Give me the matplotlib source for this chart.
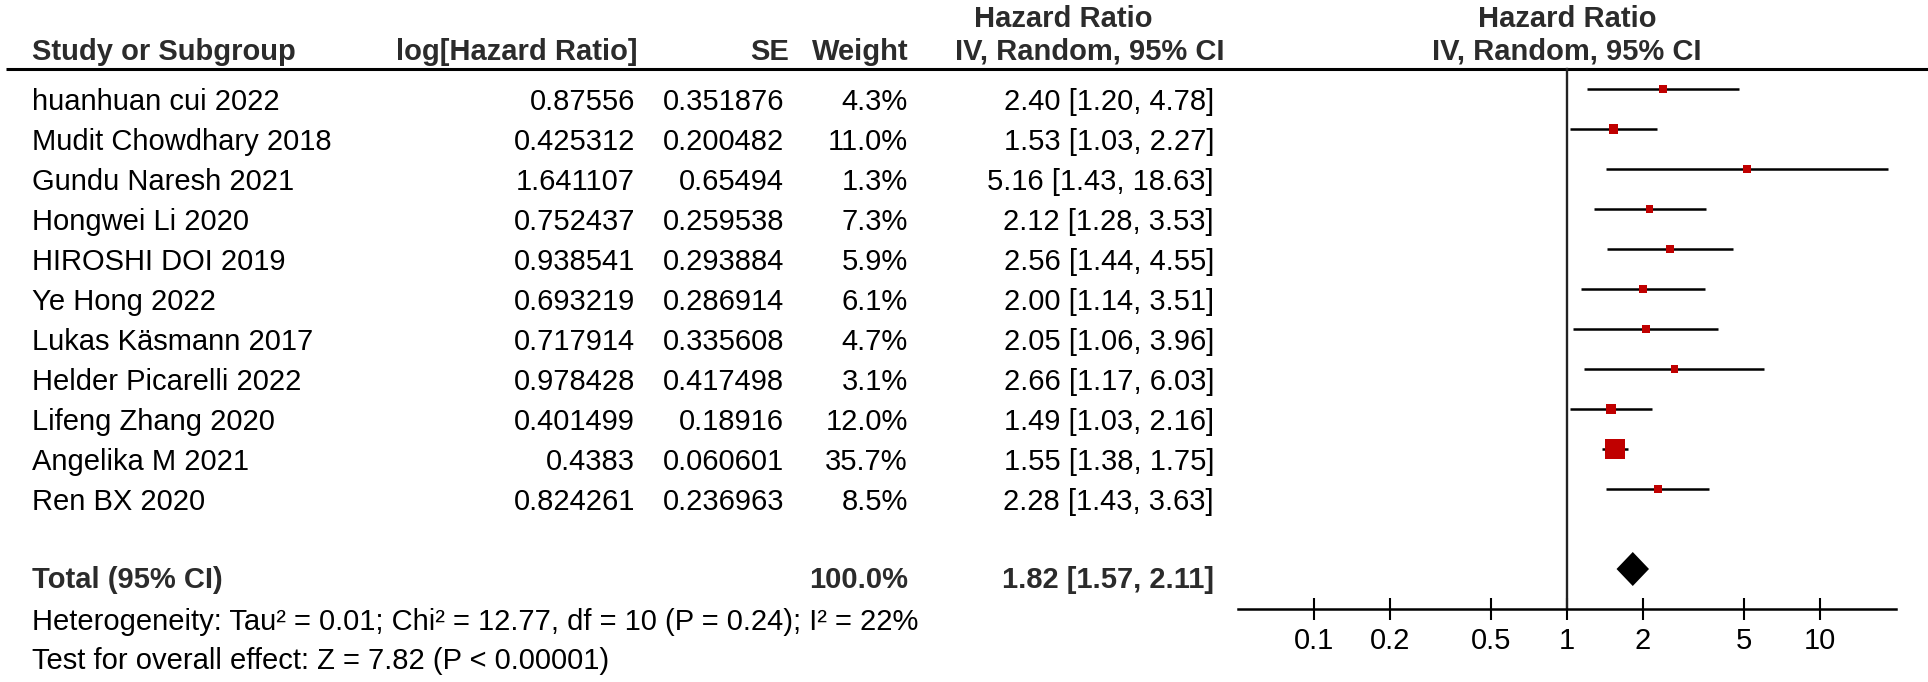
import numpy as np
import matplotlib
matplotlib.use('Agg')
import matplotlib.pyplot as plt

studies = ['huanhuan cui 2022', 'Mudit Chowdhary 2018', 'Gundu Naresh 2021', 'Hongwei Li 2020',
           'HIROSHI DOI 2019', 'Ye Hong 2022', 'Lukas Käsmann 2017', 'Helder Picarelli 2022',
           'Lifeng Zhang 2020', 'Angelika M 2021', 'Ren BX 2020']
log_hr = ['0.87556', '0.425312', '1.641107', '0.752437', '0.938541', '0.693219',
          '0.717914', '0.978428', '0.401499', '0.4383', '0.824261']
se = ['0.351876', '0.200482', '0.65494', '0.259538', '0.293884', '0.286914',
      '0.335608', '0.417498', '0.18916', '0.060601', '0.236963']
weight = [4.3, 11.0, 1.3, 7.3, 5.9, 6.1, 4.7, 3.1, 12.0, 35.7, 8.5]
hr = [2.40, 1.53, 5.16, 2.12, 2.56, 2.00, 2.05, 2.66, 1.49, 1.55, 2.28]
lo = [1.20, 1.03, 1.43, 1.28, 1.44, 1.14, 1.06, 1.17, 1.03, 1.38, 1.43]
hi = [4.78, 2.27, 18.63, 3.53, 4.55, 3.51, 3.96, 6.03, 2.16, 1.75, 3.63]
total_hr, total_lo, total_hi = 1.82, 1.57, 2.11
heterogeneity = 'Heterogeneity: Tau² = 0.01; Chi² = 12.77, df = 10 (P = 0.24); I² = 22%'
overall = 'Test for overall effect: Z = 7.82 (P < 0.00001)'
ticks = [0.1, 0.2, 0.5, 1, 2, 5, 10]

W, H = 1928, 682
plt.rcParams['font.family'] = ['Liberation Sans', 'DejaVu Sans']
fs = 21
hdr = '#2b2b2b'
red = '#c00000'

fig = plt.figure(figsize=(W / 100, H / 100), dpi=100)
ax = fig.add_axes([0, 0, 1, 1])
ax.set_xlim(0, W)
ax.set_ylim(H, 0)
ax.axis('off')

row0, step = 89, 40
ys = row0 + step * np.arange(len(studies))
y_tot = row0 + step * 12

# header
ax.text(1063, 27, 'Hazard Ratio', ha='center', va='baseline', fontsize=fs, weight='bold', color=hdr)
for x, s, ha in [(32, 'Study or Subgroup', 'left'), (638, 'log[Hazard Ratio]', 'right'),
                 (789, 'SE', 'right'), (909, 'Weight', 'right'),
                 (1090, 'IV, Random, 95% CI', 'center')]:
    ax.text(x, 60, s, ha=ha, va='baseline', fontsize=fs, weight='bold', color=hdr)
ax.text(1567, 27, 'Hazard Ratio', ha='center', va='baseline', fontsize=fs, weight='bold', color=hdr)
ax.text(1567, 60, 'IV, Random, 95% CI', ha='center', va='baseline', fontsize=fs, weight='bold', color=hdr)
ax.plot([6, W], [69, 69], color='black', lw=2.2, solid_capstyle='butt')

# table rows
for y, name, l, s, w, h, a, b in zip(ys, studies, log_hr, se, weight, hr, lo, hi):
    yb = y + 21
    ax.text(32, yb, name, ha='left', va='baseline', fontsize=fs)
    ax.text(635, yb, l, ha='right', va='baseline', fontsize=fs)
    ax.text(784, yb, s, ha='right', va='baseline', fontsize=fs)
    ax.text(908, yb, f'{w:.1f}%', ha='right', va='baseline', fontsize=fs)
    ax.text(1214, yb, f'{h:.2f} [{a:.2f}, {b:.2f}]', ha='right', va='baseline', fontsize=fs)

yb = y_tot + 19
ax.text(32, yb, 'Total (95% CI)', ha='left', va='baseline', fontsize=fs, weight='bold', color=hdr)
ax.text(908, yb, '100.0%', ha='right', va='baseline', fontsize=fs, weight='bold', color=hdr)
ax.text(1214, yb, f'{total_hr:.2f} [{total_lo:.2f}, {total_hi:.2f}]', ha='right', va='baseline',
        fontsize=fs, weight='bold', color=hdr)
ax.text(32, 630, heterogeneity, ha='left', va='baseline', fontsize=fs)
ax.text(32, 669, overall, ha='left', va='baseline', fontsize=fs)

# forest plot
axis_y = 609
x0, x1 = 1238, 1896
fax = fig.add_axes([x0 / W, (H - axis_y) / H, (x1 - x0) / W, axis_y / H])
fax.set_xscale('log')
fax.set_xlim(0.05, 20)
fax.set_ylim(axis_y, 0)
fax.patch.set_alpha(0)
for sp in ['top', 'left', 'right']:
    fax.spines[sp].set_visible(False)
fax.spines['bottom'].set_linewidth(1.8)
fax.set_yticks([])
fax.set_xticks(ticks)
fax.set_xticklabels([f'{t:g}' for t in ticks], fontsize=fs)
fax.minorticks_off()
fax.tick_params(axis='x', direction='inout', length=16, width=1.5, pad=5)

fax.axvline(1, ymin=0, ymax=(axis_y - 69) / axis_y, color='#222222', lw=1.7)
fax.hlines(ys, lo, hi, color='black', lw=1.8)
side_px = np.maximum(7.5, 3.7 * np.sqrt(weight) - 2.8)
fax.scatter(hr, ys, marker='s', s=(side_px * 0.72) ** 2, color=red, linewidths=0, zorder=3)
dh = 17
fax.fill([total_lo, total_hr, total_hi, total_hr], [y_tot, y_tot - dh, y_tot, y_tot + dh],
         color='black', lw=0)

fig.savefig('out.png', dpi=100)
